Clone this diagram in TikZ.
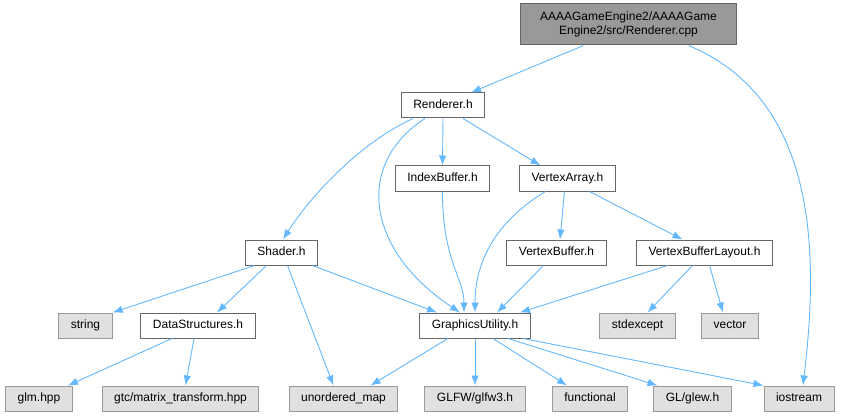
\documentclass[tikz,border=0pt]{standalone}
\usepackage{fontspec}
\setmainfont{Liberation Sans}
\usetikzlibrary{arrows.meta}

\definecolor{edgeblue}{HTML}{63B8FF}
\definecolor{leafgray}{HTML}{E0E0E0}
\definecolor{rootgray}{HTML}{999999}
\definecolor{boxline}{HTML}{666666}
\definecolor{leafline}{HTML}{999999}

\begin{document}
\begin{tikzpicture}[x=1pt, y=-1pt,
    file/.style={draw=boxline, line width=1pt, fill=white, minimum height=25pt,
        inner xsep=12pt, inner ysep=2pt, text height=9pt, text depth=2.5pt,
        font=\fontsize{12}{14}\selectfont},
    sys/.style={file, draw=leafline, fill=leafgray},
    dep/.style={-{Latex[length=10pt,width=7.5pt]}, edgeblue, line width=0.9pt}]
    \useasboundingbox (0,0) rectangle (841,417);

    % files of the project
    \node [file, fill=rootgray, minimum width=216pt, minimum height=41pt, align=center,
        text height=, text depth=] (cpp) at (628.5, 24.5) {AAAAGameEngine2/AAAAGame\\Engine2/src/Renderer.cpp};
    \node [file] (rend) at (443, 105.5) {Renderer.h};
    \node [file] (ib) at (442.5, 178.5) {IndexBuffer.h};
    \node [file] (va) at (567.5, 178.5) {VertexArray.h};
    \node [file] (shader) at (281.5, 252.5) {Shader.h};
    \node [file] (vb) at (556.5, 252.5) {VertexBuffer.h};
    \node [file] (vbl) at (704.5, 252.5) {VertexBufferLayout.h};
    \node [file] (ds) at (198, 325.5) {DataStructures.h};
    \node [file] (gu) at (475, 325.5) {GraphicsUtility.h};

    % system headers
    \node [sys] (str) at (85.5, 325.5) {string};
    \node [sys] (exc) at (637.5, 325.5) {stdexcept};
    \node [sys] (vec) at (730, 325.5) {vector};
    \node [sys] (glm) at (39, 398.5) {glm.hpp};
    \node [sys] (gtc) at (180.5, 398.5) {gtc/matrix\_transform.hpp};
    \node [sys] (umap) at (343.5, 398.5) {unordered\_map};
    \node [sys] (glfw) at (475, 398.5) {GLFW/glfw3.h};
    \node [sys] (func) at (590, 398.5) {functional};
    \node [sys] (glew) at (692.5, 398.5) {GL/glew.h};
    \node [sys] (io) at (799, 398.5) {iostream};

    % includes
    \draw [dep] ([xshift=-45pt]cpp.south) -- ([xshift=28pt]rend.north);
    \draw [dep] ([xshift=60pt]cpp.south) .. controls +(132,55) and +(15,-126) .. ([xshift=4pt]io.north);

    \draw [dep] ([xshift=-30pt]rend.south) .. controls +(-55,25) and +(25,-40) .. ([xshift=1.5pt]shader.north);
    \draw [dep] ([xshift=-18pt]rend.south) .. controls +(-70,45) and +(-95,-63) .. ([xshift=-15pt]gu.north);
    \draw [dep] (rend.south) -- (ib.north);
    \draw [dep] ([xshift=20pt]rend.south) -- ([xshift=-27pt]va.north);

    \draw [dep] (ib.south) .. controls +(0,70) and +(0,-35) .. ([xshift=-11pt]gu.north);
    \draw [dep] ([xshift=-22pt]va.south) .. controls +(-40,24) and +(0,-60) .. (gu.north);
    \draw [dep] ([xshift=-3pt]va.south) -- ([xshift=3.5pt]vb.north);
    \draw [dep] ([xshift=22pt]va.south) -- ([xshift=-22pt]vbl.north);

    \draw [dep] ([xshift=-13pt]vb.south) -- ([xshift=22pt]gu.north);
    \draw [dep] ([xshift=-37pt]vbl.south) -- ([xshift=45pt]gu.north);
    \draw [dep] ([xshift=-12pt]vbl.south) -- ([xshift=10pt]exc.north);
    \draw [dep] ([xshift=5pt]vbl.south) -- ([xshift=-7pt]vec.north);

    \draw [dep] ([xshift=-27pt]shader.south) -- (str.north east);
    \draw [dep] ([xshift=-15pt]shader.south) -- ([xshift=19pt]ds.north);
    \draw [dep] ([xshift=6pt]shader.south) -- ([xshift=-10pt]umap.north);
    \draw [dep] ([xshift=31pt]shader.south) -- ([xshift=-38pt]gu.north);

    \draw [dep] ([xshift=-26pt]ds.south) -- ([xshift=29pt]glm.north);
    \draw [dep] ([xshift=-4pt]ds.south) -- ([xshift=5pt]gtc.north);

    \draw [dep] ([xshift=-27pt]gu.south) -- ([xshift=27pt]umap.north);
    \draw [dep] (gu.south) -- (glfw.north);
    \draw [dep] ([xshift=18pt]gu.south) -- ([xshift=-23pt]func.north);
    \draw [dep] ([xshift=33pt]gu.south) -- ([xshift=-35pt]glew.north);
    \draw [dep] ([xshift=48pt]gu.south) -- (io.north west);
\end{tikzpicture}
\end{document}
